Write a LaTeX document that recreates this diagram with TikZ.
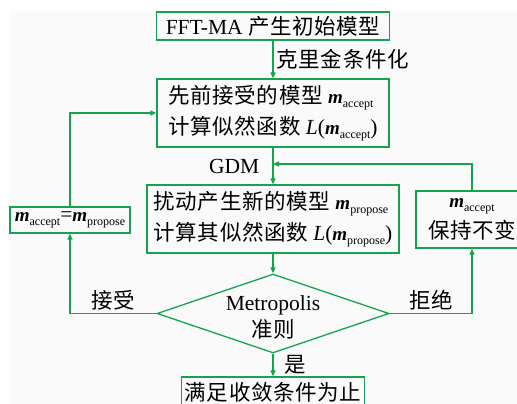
\documentclass[tikz,border=0pt]{standalone}
\usepackage{fontspec}
\setmainfont{Liberation Serif}
\newfontfamily\cjk[LetterSpace=3]{Noto Sans CJK SC}
\usetikzlibrary{shapes.geometric,arrows.meta}

\definecolor{flowgreen}{RGB}{22,163,80}
\definecolor{paper}{RGB}{250,250,250}

% bold model vector with a small upright subscript
\newcommand{\mvar}[1]{{\fontsize{19}{19}\selectfont\bfseries\itshape m}\raisebox{-0.4ex}{\fontsize{12}{12}\selectfont #1}}

\tikzset{
  box/.style={draw=flowgreen, line width=1.3pt, inner sep=0pt, align=left,
    font=\fontsize{21.5}{31}\selectfont},
  decision/.style={draw=flowgreen, line width=1.3pt, shape=diamond, inner sep=0pt,
    minimum width=232pt, minimum height=79pt},
  flow/.style={draw=flowgreen, line width=1.3pt, -{Triangle[length=6pt,width=5pt]}},
  lbl/.style={font=\fontsize{21.5}{27}\selectfont, inner sep=3pt}
}

\begin{document}
\begin{tikzpicture}[x=1pt,y=-1pt]
  \useasboundingbox (0,0) rectangle (517,404);
  \clip (0,0) rectangle (517,404);
  \fill[paper] (10,11) rectangle (517,404);

  % 1. The main column of steps
  \node[box, minimum width=233pt, minimum height=28pt] (init) at (273,26)
    {FFT-MA {\cjk 产生初始模型}};
  \node[box, minimum width=232pt, minimum height=68pt] (prev) at (273,113)
    {{\cjk 先前接受的模型}~\mvar{accept}\\{\cjk 计算似然函数}~\textit{L}(\mvar{accept})};
  \node[box, minimum width=252pt, minimum height=68pt] (prop) at (273,219)
    {{\cjk 扰动产生新的模型}~\mvar{propose}\\{\cjk 计算其似然函数}~\textit{L}(\mvar{propose})};
  \node[decision] (metro) at (273,313.5) {};
  \node[lbl, align=center] (metrotext) at (273,317) {Metropolis\\{\cjk 准则}};
  \node[box, align=center, minimum width=183pt, minimum height=30pt] (stop) at (273,392)
    {{\cjk 满足收敛条件为止}};

  % 2. The two side boxes (accept / reject)
  \node[box, align=center, minimum width=120pt, minimum height=26pt] (upd) at (70,220)
    {\mvar{accept}=\mvar{propose}};
  \node[box, align=center, minimum width=112pt, minimum height=57pt] (keep) at (472,219.5)
    {\mvar{accept}\\{\cjk 保持不变}};

  % where the reject loop meets the GDM line
  \coordinate (gdmjoin) at (273,164);

  % 3. Connectors
  \draw[flow] (init) -- (prev) node[lbl, midway, right] {{\cjk 克里金条件化}};
  \draw[flow] (prev) -- (prop) node[lbl, midway, left, xshift=-10pt] {GDM};
  \draw[flow] (prop) -- (metro);
  \draw[flow] (metro) -- (stop) node[lbl, midway, right, xshift=8pt] {{\cjk 是}};
  \draw[flow] (metro.west) -| (upd.south) node[lbl, pos=0.25, above] {{\cjk 接受}};
  \draw[flow] (upd.north) |- (prev.west);
  \draw[flow] (metro.east) -| (keep.south) node[lbl, pos=0.25, above] {{\cjk 拒绝}};
  \draw[flow] (keep.north) |- (gdmjoin);

\end{tikzpicture}
\end{document}
